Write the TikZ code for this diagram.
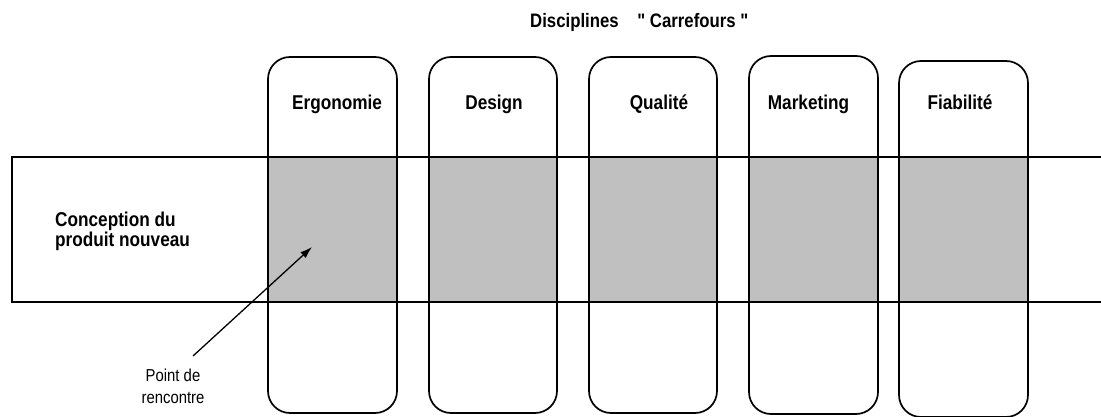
\documentclass[tikz,border=0pt]{standalone}
\usepackage{fontspec}
\setmainfont{Liberation Sans}[FakeStretch=0.86, Ligatures=TeXOff]
\usetikzlibrary{arrows.meta}
\pgfdeclarelayer{bg}
\pgfsetlayers{bg,main}
\definecolor{cross}{HTML}{C0C0C0}
\begin{document}
\begin{tikzpicture}[x=1pt,y=-1pt,
  col/.style={draw, line width=1.7pt, rounded corners=22pt, rectangle, inner sep=0pt},
  band/.style={line width=1.5pt},
  lab/.style={font=\bfseries\fontsize{20}{20}\selectfont, inner sep=0pt, anchor=base},
  side/.style={font=\bfseries\fontsize{20}{20}\selectfont, inner sep=0pt, align=left, anchor=north west},
  note/.style={font=\fontsize{17.3}{22}\selectfont, inner sep=0pt, align=center, anchor=north},
  pointer/.style={-{Latex[length=12pt,width=8pt]}, line width=1.3pt}]
\useasboundingbox (0,0) rectangle (1101,417);

% columns ("disciplines carrefours")
\node[col, minimum width=129pt, minimum height=356pt] (c1) at (332.5,235) {};
\node[col, minimum width=128pt, minimum height=356pt] (c2) at (493,235) {};
\node[col, minimum width=128pt, minimum height=356pt] (c3) at (653,235) {};
\node[col, minimum width=129pt, minimum height=358pt] (c4) at (813.5,235) {};
\node[col, minimum width=129pt, minimum height=356pt] (c5) at (963.5,239) {};

% band
\coordinate (bTR) at (1101,157);
\coordinate (bTL) at (12,157);
\coordinate (bBL) at (12,302);
\coordinate (bBR) at (1101,302);

\begin{pgfonlayer}{bg}
  \foreach \c in {c1,c2,c3,c4,c5}
    \fill[cross] (\c.west |- bTL) rectangle (\c.east |- bBL);
\end{pgfonlayer}
\draw[band] (bTR) -- (bTL) -- (bBL) -- (bBR);

% labels
\node[font=\bfseries\fontsize{19.5}{20}\selectfont, inner sep=0pt, anchor=base west] (title) at (530,28) {Disciplines\ \ \ \ " Carrefours "};
\node[lab] (l1) at (337,110) {Ergonomie};
\node[lab] (l2) at (494,110) {Design};
\node[lab] (l3) at (659,110) {Qualité};
\node[lab] (l4) at (808.5,110) {Marketing};
\node[lab] (l5) at (960,110) {Fiabilité};

\node[side] (conc) at (55,211.5) {Conception du\\produit nouveau};

\node[note] (pr) at (173,369) {Point de\\rencontre};
\coordinate (pA) at (193,356);
\coordinate (pB) at (312,247);
\draw[pointer] (pA) -- (pB);
\end{tikzpicture}
\end{document}
